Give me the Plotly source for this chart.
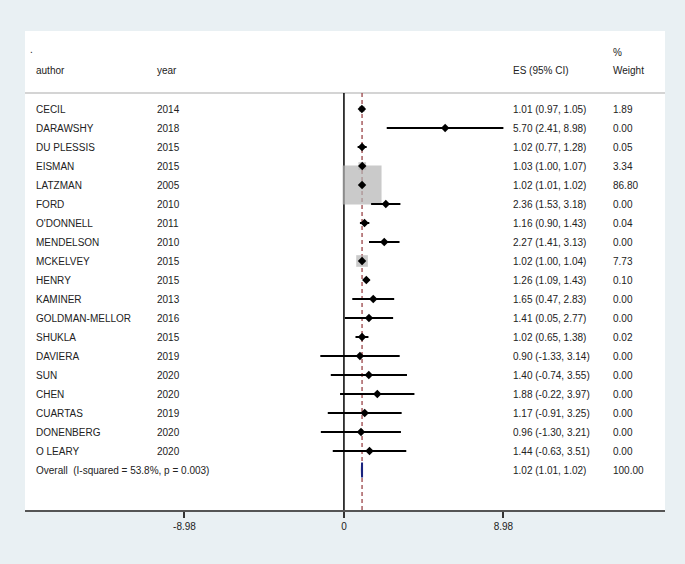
import plotly.graph_objects as go
import math

authors = ["CECIL", "DARAWSHY", "DU PLESSIS", "EISMAN", "LATZMAN", "FORD", "O'DONNELL",
           "MENDELSON", "MCKELVEY", "HENRY", "KAMINER", "GOLDMAN-MELLOR", "SHUKLA",
           "DAVIERA", "SUN", "CHEN", "CUARTAS", "DONENBERG", "O LEARY"]
years = ["2014", "2018", "2015", "2015", "2005", "2010", "2011", "2010", "2015", "2015",
         "2013", "2016", "2015", "2019", "2020", "2020", "2019", "2020", "2020"]
es = [1.01, 5.70, 1.02, 1.03, 1.02, 2.36, 1.16, 2.27, 1.02, 1.26, 1.65, 1.41, 1.02,
      0.90, 1.40, 1.88, 1.17, 0.96, 1.44]
lo = [0.97, 2.41, 0.77, 1.00, 1.01, 1.53, 0.90, 1.41, 1.00, 1.09, 0.47, 0.05, 0.65,
      -1.33, -0.74, -0.22, -0.91, -1.30, -0.63]
hi = [1.05, 8.98, 1.28, 1.07, 1.02, 3.18, 1.43, 3.13, 1.04, 1.43, 2.83, 2.77, 1.38,
      3.14, 3.55, 3.97, 3.25, 3.21, 3.51]
weights = [1.89, 0.00, 0.05, 3.34, 86.80, 0.00, 0.04, 0.00, 7.73, 0.10, 0.00, 0.00, 0.02,
           0.00, 0.00, 0.00, 0.00, 0.00, 0.00]
overall_label = "Overall  (I-squared = 53.8%, p = 0.003)"
overall_es, overall_lo, overall_hi, overall_w = 1.02, 1.01, 1.02, 100.00
tick_vals = [-8.98, 0, 8.98]
tick_text = ["-8.98", "0", "8.98"]

n = len(authors)
rows = list(range(n))
overall_row = n

FONT = "Liberation Sans, Arial, sans-serif"
TXT = "#222222"
BG = "#e9f0f3"

fig = go.Figure()

# weight boxes
maxw = max(weights)
sizes = [39 * math.sqrt(w / maxw) if w > 0 else 0 for w in weights]
fig.add_trace(go.Scatter(x=es, y=rows, mode="markers",
                         marker=dict(symbol="square", size=sizes, color="#b3b3b3",
                                     line=dict(width=0)),
                         hoverinfo="skip", showlegend=False))

# CI lines and point estimates
fig.add_trace(go.Scatter(x=es, y=rows, mode="markers",
                         marker=dict(symbol="diamond", size=6.5, color="black"),
                         error_x=dict(type="data", symmetric=False,
                                      array=[h - e for h, e in zip(hi, es)],
                                      arrayminus=[e - l for e, l in zip(es, lo)],
                                      color="black", thickness=2, width=0),
                         showlegend=False))

# overall diamond
fig.add_trace(go.Scatter(x=[overall_lo, overall_es, overall_hi, overall_es, overall_lo],
                         y=[overall_row, overall_row - 0.4, overall_row, overall_row + 0.4, overall_row],
                         mode="lines", fill="toself", fillcolor="#1a237e",
                         line=dict(color="#1a237e", width=2), showlegend=False))

ytop, ybot = -4.105, 21.105

shapes = [
    dict(type="line", xref="paper", yref="y", x0=0, x1=1, y0=-0.84, y1=-0.84,
         line=dict(color="#d4d4d4", width=2), layer="below"),
    dict(type="line", xref="x", yref="y", x0=0, x1=0, y0=-0.84, y1=ybot,
         line=dict(color="black", width=1.5), layer="below"),
    dict(type="line", xref="x", yref="y", x0=overall_es, x1=overall_es, y0=-0.84, y1=ybot,
         line=dict(color="#9a4448", width=1.3, dash="4px,3px"), layer="below"),
]

ann = []
def txt(xp, y, s):
    ann.append(dict(xref="paper", yref="y", x=xp, y=y, text=s, showarrow=False,
                    xanchor="left", yanchor="middle",
                    font=dict(family=FONT, size=10, color=TXT)))

col_author, col_year, col_es, col_w = 0.0141, 0.2031, 0.759, 0.915
txt(0.0047, -3.15, ".")
txt(col_w, -2.95, "%")
txt(col_author, -2.03, "author")
txt(col_year, -2.03, "year")
txt(col_es, -2.03, "ES (95% CI)")
txt(col_w, -2.03, "Weight")
for i in range(n):
    txt(col_author, i, authors[i])
    txt(col_year, i, years[i])
    txt(col_es, i, f"{es[i]:.2f} ({lo[i]:.2f}, {hi[i]:.2f})")
    txt(col_w, i, f"{weights[i]:.2f}")
txt(col_author, overall_row, overall_label)
txt(col_es, overall_row, f"{overall_es:.2f} ({overall_lo:.2f}, {overall_hi:.2f})")
txt(col_w, overall_row, f"{overall_w:.2f}")

fig.update_layout(
    width=685, height=564,
    margin=dict(l=25, r=20, t=31, b=54),
    paper_bgcolor=BG, plot_bgcolor="white",
    shapes=shapes, annotations=ann,
    xaxis=dict(range=[-17.96, 18.08], tickvals=tick_vals, ticktext=tick_text,
               showgrid=False, zeroline=False, showline=True, linecolor="#555555",
               linewidth=2, ticks="outside", ticklen=6, tickwidth=1.5, tickcolor="#333333",
               tickfont=dict(family=FONT, size=10, color=TXT), fixedrange=True),
    yaxis=dict(range=[ybot, ytop], showgrid=False, zeroline=False, showticklabels=False,
               showline=False, fixedrange=True),
)

fig.write_html("out.html", config={"displayModeBar": False},
               post_script="document.body.style.margin='0';document.body.style.background='%s';" % BG)
